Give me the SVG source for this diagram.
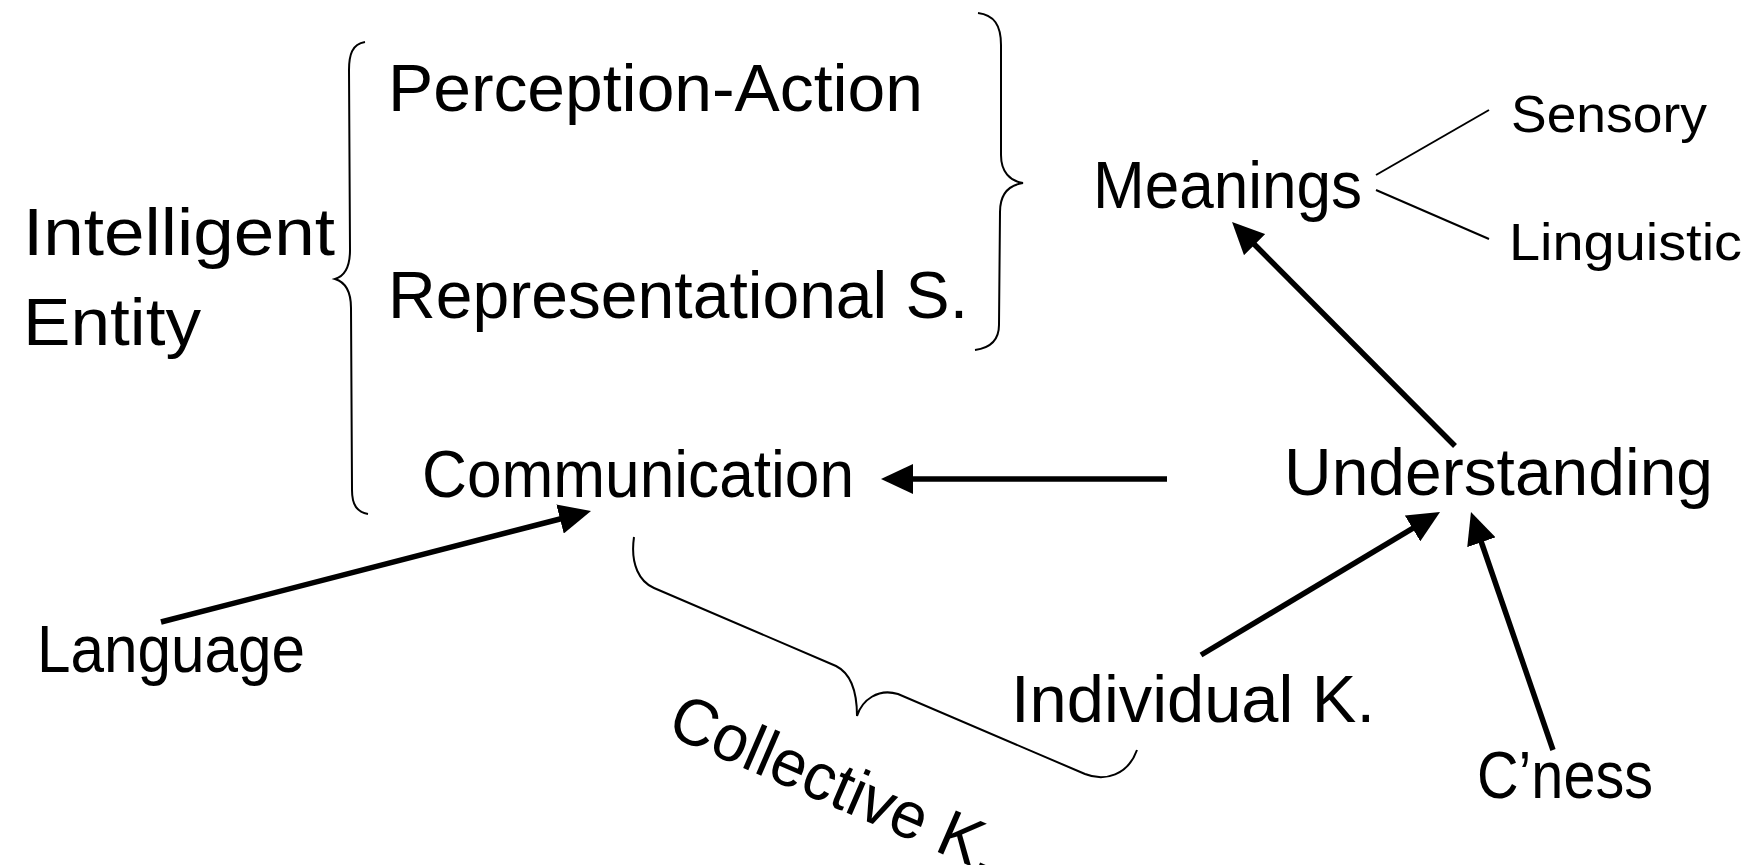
<svg xmlns="http://www.w3.org/2000/svg" width="1748" height="865" viewBox="0 0 1748 865">
<style>
  .t { font-family: "Liberation Sans", Arial, sans-serif; font-size: 66px; fill: #000; }
  .s { font-size: 52px; }
  .thin { fill: none; stroke: #000; stroke-width: 2; }
  .arr { fill: none; stroke: #000; stroke-width: 5.5; marker-end: url(#ah); }
</style>
<defs>
  <marker id="ah" markerUnits="userSpaceOnUse" markerWidth="32" markerHeight="30" viewBox="0 0 32 30" refX="4" refY="15" orient="auto">
    <path d="M0,0 L32,15 L0,30 z" fill="#000"/>
  </marker>
</defs>
<rect width="1748" height="865" fill="#fff"/>

<g id="intelligent-entity">
  <text class="t" x="23" y="255" textLength="312" lengthAdjust="spacingAndGlyphs">Intelligent</text>
  <text class="t" x="23" y="345" textLength="178" lengthAdjust="spacingAndGlyphs">Entity</text>
</g>
<g id="perception-action">
  <text class="t" x="388" y="111" textLength="535" lengthAdjust="spacingAndGlyphs">Perception-Action</text>
</g>
<g id="representational-s">
  <text class="t" x="388" y="318" textLength="580" lengthAdjust="spacingAndGlyphs">Representational S.</text>
</g>
<g id="communication">
  <text class="t" x="422" y="497" textLength="432" lengthAdjust="spacingAndGlyphs">Communication</text>
</g>
<g id="meanings">
  <text class="t" x="1093" y="208" textLength="269" lengthAdjust="spacingAndGlyphs">Meanings</text>
</g>
<g id="sensory">
  <text class="t s" x="1511" y="132" textLength="196" lengthAdjust="spacingAndGlyphs">Sensory</text>
</g>
<g id="linguistic">
  <text class="t s" x="1509" y="260" textLength="233" lengthAdjust="spacingAndGlyphs">Linguistic</text>
</g>
<g id="understanding">
  <text class="t" x="1284" y="495" textLength="429" lengthAdjust="spacingAndGlyphs">Understanding</text>
</g>
<g id="language">
  <text class="t" x="37" y="672" textLength="268" lengthAdjust="spacingAndGlyphs">Language</text>
</g>
<g id="individual-k">
  <text class="t" x="1011" y="722" textLength="364" lengthAdjust="spacingAndGlyphs">Individual K.</text>
</g>
<g id="cness">
  <text class="t" x="1477" y="798" textLength="176" lengthAdjust="spacingAndGlyphs">C’ness</text>
</g>
<g id="collective-k">
  <text class="t" x="0" y="0" transform="translate(665,734) rotate(23.4)" font-size="62" textLength="352" lengthAdjust="spacingAndGlyphs">Collective K.</text>
</g>

<g id="connectors">
  <path class="thin" d="M365,42 C352,44 349,55 349,70 L350,250 C350,266 345,276 335,279 C345,282 351,292 351,308 L352,490 C352,505 357,512 368,514"/>
  <path class="thin" d="M978,13 C994,15 1001,25 1001,45 L1001,155 C1001,172 1010,181 1023,183 C1010,185 1000,193 1000,212 L999,325 C999,340 990,348 975,350"/>
  <path class="thin" d="M634,537 C630,565 640,582 654,588 L836,666 C850,673 857,690 857,716 C862,700 878,688 898,694 L1085,774 C1105,782 1128,775 1137,750"/>
  <line class="thin" x1="1376" y1="175" x2="1489" y2="110"/>
  <line class="thin" x1="1376" y1="190" x2="1489" y2="239"/>
  <line class="arr" x1="1455" y1="446" x2="1251.8" y2="241.8"/>
  <line class="arr" x1="1167" y1="479" x2="909" y2="479"/>
  <line class="arr" x1="161" y1="622" x2="563.9" y2="518"/>
  <line class="arr" x1="1201" y1="655" x2="1416" y2="526.4"/>
  <line class="arr" x1="1553" y1="750" x2="1480.1" y2="538.5"/>
</g>
</svg>
